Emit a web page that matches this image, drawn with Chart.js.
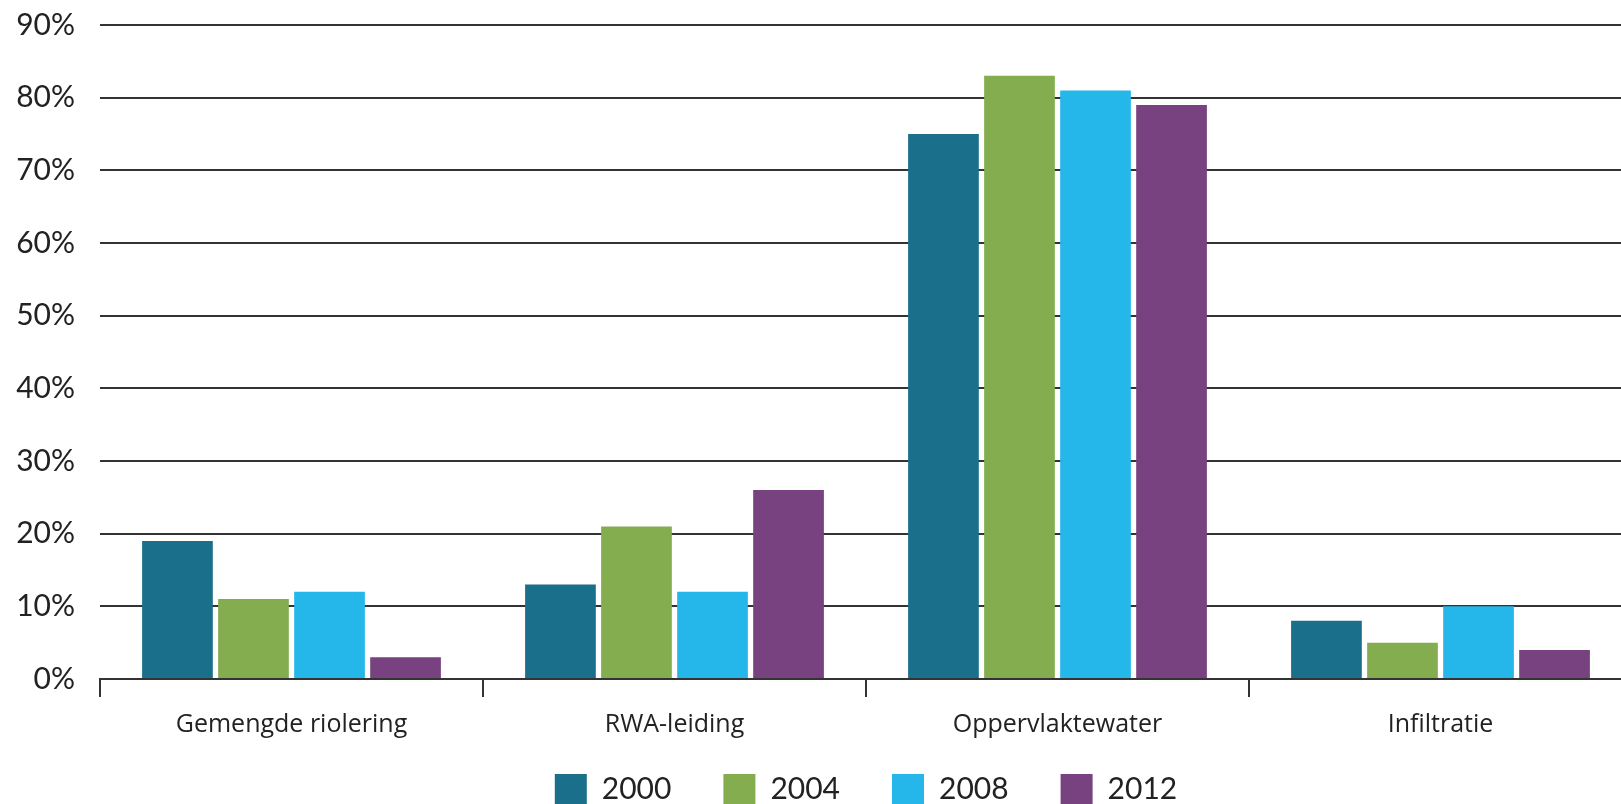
<!DOCTYPE html>
<html>
<head>
<meta charset="utf-8">
<script src="https://cdn.jsdelivr.net/npm/chart.js@4"></script>
<style>
  html, body { margin: 0; padding: 0; background: #fff; overflow: hidden; }
  #wrap { width: 1632px; height: 804px; }
</style>
</head>
<body>
<div id="wrap"><canvas id="chart" width="1632" height="804"></canvas></div>
<script>
const categories = ["Gemengde riolering", "RWA-leiding", "Oppervlaktewater", "Infiltratie"]
const years = ["2000", "2004", "2008", "2012"]
const values2000 = [19, 13, 75, 8]
const values2004 = [11, 21, 83, 5]
const values2008 = [12, 12, 81, 10]
const values2012 = [3, 26, 79, 4]
const colors = ["#1a6f8a", "#84ad4f", "#25b7e9", "#784180"]

const series = [values2000, values2004, values2008, values2012]

// pull the legend up a bit so it sits close under the category labels
const legendUp = {
  id: "legendUp",
  afterLayout(chart) {
    const l = chart.legend
    l.top -= 31
    l.height += 31
  }
}

new Chart(document.getElementById("chart"), {
  type: "bar",
  data: {
    labels: categories,
    datasets: series.map((vals, i) => ({
      label: years[i],
      data: vals,
      backgroundColor: colors[i],
      borderWidth: 0,
      categoryPercentage: 0.794,
      barPercentage: 0.93
    }))
  },
  options: {
    responsive: false,
    animation: false,
    layout: { padding: { top: 25, left: 0, right: 0, bottom: -13 } },
    scales: {
      x: {
        grid: {
          offset: true,
          drawOnChartArea: false,
          drawTicks: true,
          tickLength: 18,
          color: "#333",
          lineWidth: 2
        },
        border: { color: "#333", width: 2 },
        ticks: {
          color: "#222",
          padding: 13,
          font: { family: "Open Sans", size: 25 }
        }
      },
      y: {
        min: 0,
        max: 90,
        afterFit: s => { s.width = 100 },
        grid: { color: "#333", lineWidth: 2, drawTicks: true, tickLength: 25, tickColor: "rgba(0,0,0,0)" },
        border: { display: false },
        ticks: {
          stepSize: 10,
          padding: 0,
          color: "#222",
          font: { family: "Lato", size: 30 },
          callback: v => v + "%"
        }
      }
    },
    plugins: {
      tooltip: { enabled: false },
      legend: {
        position: "bottom",
        fullSize: false,
        maxHeight: 64,
        labels: {
          boxWidth: 32,
          boxHeight: 31,
          padding: 52,
          color: "#222",
          font: { family: "Lato", size: 30 }
        }
      }
    }
  },
  plugins: [legendUp]
})
</script>
</body>
</html>
